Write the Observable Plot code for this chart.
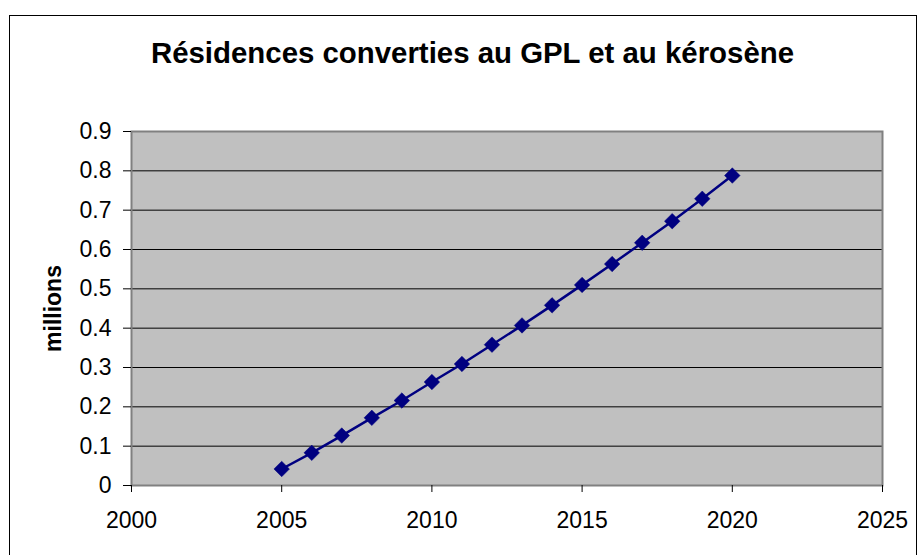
<!DOCTYPE html>
<html>
<head>
<meta charset="utf-8">
<script src="https://cdn.jsdelivr.net/npm/d3@7"></script>
<script src="https://cdn.jsdelivr.net/npm/@observablehq/plot@0.6"></script>
<style>
  html, body { margin: 0; padding: 0; background: #fff; overflow: hidden; }
  #wrap { position: relative; width: 919px; height: 555px; overflow: hidden; font-family: "Liberation Sans", Arial, sans-serif; }
  #border { position: absolute; left: 9px; top: 15px; width: 908px; height: 620px; border: 1px solid #000; box-sizing: border-box; pointer-events: none; }
  #title { position: absolute; left: 0; top: 38px; width: 945px; text-align: center; font-size: 29.4px; line-height: 29px; font-weight: bold; color: #000; }
  #chart { position: absolute; left: 0; top: 0; }
</style>
</head>
<body>
<div id="wrap">
  <div id="border"></div>
  <div id="chart"></div>
  <div id="title"></div>
</div>
<script>
const titleText = "Résidences converties au GPL et au kérosène";
const yLabel = "millions";
const years = [2005, 2006, 2007, 2008, 2009, 2010, 2011, 2012, 2013, 2014, 2015, 2016, 2017, 2018, 2019, 2020];
const values = [0.042, 0.083, 0.127, 0.172, 0.216, 0.263, 0.309, 0.358, 0.407, 0.458, 0.510, 0.563, 0.617, 0.672, 0.729, 0.788];
const xTicks = [2000, 2005, 2010, 2015, 2020, 2025];
const yTicks = [0, 0.1, 0.2, 0.3, 0.4, 0.5, 0.6, 0.7, 0.8, 0.9];
const gridValues = [0.1, 0.2, 0.3, 0.4, 0.5, 0.6, 0.7, 0.8];

const data = years.map((y, i) => ({year: y, value: values[i]}));

document.getElementById("title").textContent = titleText;

const chart = Plot.plot({
  width: 919,
  height: 555,
  marginLeft: 131,
  marginRight: 37,
  marginTop: 131,
  marginBottom: 70,
  style: {fontFamily: "'Liberation Sans', Arial, sans-serif", fontSize: "23px", background: "transparent", color: "#000"},
  x: {domain: [2000, 2025]},
  y: {domain: [0, 0.9]},
  marks: [
    Plot.frame({fill: "#c0c0c0"}),
    Plot.ruleY(gridValues, {stroke: "#000", strokeWidth: 1}),
    Plot.frame({stroke: "#808080", strokeWidth: 2}),
    Plot.axisX({ticks: xTicks, tickFormat: d => String(d), tickSize: 7, tickPadding: 19, label: null, fontSize: 23}),
    Plot.axisY({ticks: yTicks, tickFormat: d => d === 0 ? "0" : d3.format(".1f")(d), tickSize: 8, tickPadding: 12, label: null, fontSize: 23}),
    Plot.line(data, {x: "year", y: "value", stroke: "#000080", strokeWidth: 2.5}),
    Plot.dot(data, {x: "year", y: "value", symbol: "diamond2", r: 7, fill: "#000080", stroke: "#000080", strokeWidth: 0.5}),
    Plot.text([yLabel], {text: d => d, frameAnchor: "left", textAnchor: "middle", rotate: -90, dx: -78, fontWeight: "bold", fontSize: 23})
  ]
});
document.getElementById("chart").appendChild(chart);
</script>
</body>
</html>
